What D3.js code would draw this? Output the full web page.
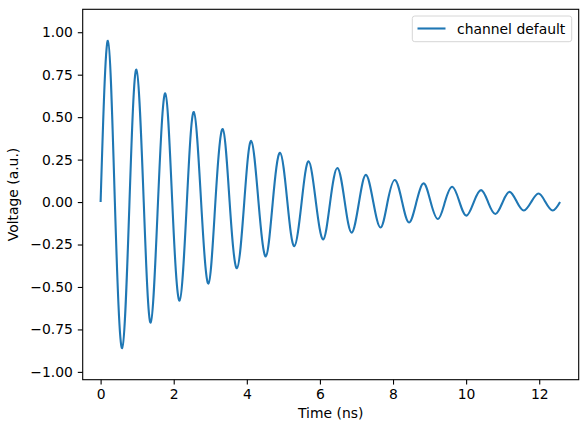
<!DOCTYPE html>
<html>
<head>
<meta charset="utf-8">
<script src="https://cdn.jsdelivr.net/npm/d3@7"></script>
<style>
  body { margin: 0; background: #fff; }
  svg { display: block; font-family: 'DejaVu Sans', sans-serif; }
</style>
</head>
<body>
<div id="chart"></div>
<script>
// values: zero crossings and extrema of the trace
var timeNs = [0, 0.20, 0.39, 0.59, 0.79, 0.98, 1.18, 1.37, 1.57, 1.77, 1.96, 2.16, 2.36, 2.55, 2.75, 2.95,
  3.14, 3.34, 3.53, 3.73, 3.93, 4.12, 4.32, 4.52, 4.71, 4.91, 5.11, 5.30, 5.50, 5.69, 5.89, 6.09,
  6.28, 6.48, 6.68, 6.87, 7.07, 7.26, 7.46, 7.66, 7.85, 8.05, 8.25, 8.44, 8.64, 8.84, 9.03, 9.23,
  9.42, 9.62, 9.82, 10.01, 10.21, 10.41, 10.60, 10.80, 11.00, 11.19, 11.39, 11.58, 11.78, 11.98, 12.17, 12.37, 12.57]
var voltage = [0, 0.95, 0, -0.86, 0, 0.78, 0, -0.71, 0, 0.64, 0, -0.58, 0, 0.53, 0, -0.48,
  0, 0.43, 0, -0.39, 0, 0.36, 0, -0.32, 0, 0.29, 0, -0.26, 0, 0.24, 0, -0.22,
  0, 0.20, 0, -0.18, 0, 0.16, 0, -0.15, 0, 0.13, 0, -0.12, 0, 0.11, 0, -0.10,
  0, 0.09, 0, -0.08, 0, 0.07, 0, -0.07, 0, 0.06, 0, -0.05, 0, 0.05, 0, -0.05, 0]
var xTicks = [0, 2, 4, 6, 8, 10, 12]
var yTicks = [-1.00, -0.75, -0.50, -0.25, 0.00, 0.25, 0.50, 0.75, 1.00]
var seriesName = 'channel default'

var width = 587
var height = 432
var lineC = '#1f77b4'
var fontSize = 13.9
var tickLen = 4.9

var plotLeft = 82.7
var plotRight = 578.7
var plotTop = 9.3
var plotBottom = 379.7

var svg = d3.select('#chart').append('svg')
  .attr('width', width)
  .attr('height', height)

var x = d3.scaleLinear().domain([-0.49, 13.08]).range([plotLeft, plotRight])
var y = d3.scaleLinear().domain([-1.046, 1.135]).range([plotBottom, plotTop])

var fmtY = function (d) { return d3.format('.2f')(d).replace('-', '\u2212') }

// ----------------------------------------
// Axes
// ----------------------------------------

var xAxis = svg.append('g')
  .attr('transform', 'translate(0,' + plotBottom + ')')
  .call(d3.axisBottom(x).tickValues(xTicks).tickSize(tickLen).tickPadding(4.9).tickFormat(d3.format('d')))
var yAxis = svg.append('g')
  .attr('transform', 'translate(' + plotLeft + ',0)')
  .call(d3.axisLeft(y).tickValues(yTicks).tickSize(tickLen).tickPadding(4.9).tickFormat(fmtY))

;[xAxis, yAxis].forEach(function (g) {
  g.attr('font-size', null).attr('font-family', null)
  g.select('.domain').remove()
  g.selectAll('.tick line').attr('stroke', '#000').attr('stroke-width', 1.1)
  g.selectAll('.tick text')
    .attr('fill', '#000')
    .style('font-size', fontSize + 'px')
    .style('font-family', 'DejaVu Sans')
})

// ----------------------------------------
// Trace
// ----------------------------------------

var points = timeNs.map(function (t, i) { return [t, voltage[i]] })

var line = d3.line()
  .x(function (d) { return x(d[0]) })
  .y(function (d) { return y(d[1]) })
  .curve(d3.curveNatural)

svg.append('path')
  .datum(points)
  .attr('fill', 'none')
  .attr('stroke', lineC)
  .attr('stroke-width', 2.1)
  .attr('stroke-linejoin', 'round')
  .attr('d', line)

// frame
svg.append('rect')
  .attr('x', plotLeft)
  .attr('y', plotTop)
  .attr('width', plotRight - plotLeft)
  .attr('height', plotBottom - plotTop)
  .attr('fill', 'none')
  .attr('stroke', '#000')
  .attr('stroke-width', 1.1)

// labels
svg.append('text')
  .attr('x', (plotLeft + plotRight) / 2)
  .attr('y', 418)
  .attr('text-anchor', 'middle')
  .style('font-size', fontSize + 'px')
  .text('Time (ns)')

svg.append('text')
  .attr('transform', 'translate(18,' + (plotTop + plotBottom) / 2 + ') rotate(-90)')
  .attr('text-anchor', 'middle')
  .style('font-size', fontSize + 'px')
  .text('Voltage (a.u.)')

// ----------------------------------------
// Legend
// ----------------------------------------

var legend = svg.append('g')

legend.append('rect')
  .attr('x', 412.3)
  .attr('y', 16)
  .attr('width', 159.4)
  .attr('height', 25.7)
  .attr('rx', 2.5)
  .attr('fill', '#fff')
  .attr('fill-opacity', 0.8)
  .attr('stroke', '#d6d6d6')
  .attr('stroke-width', 1)

legend.append('line')
  .attr('x1', 417.5)
  .attr('x2', 445.5)
  .attr('y1', 28.5)
  .attr('y2', 28.5)
  .attr('stroke', lineC)
  .attr('stroke-width', 2.1)

legend.append('text')
  .attr('x', 457)
  .attr('y', 33.5)
  .style('font-size', fontSize + 'px')
  .text(seriesName)
</script>
</body>
</html>
